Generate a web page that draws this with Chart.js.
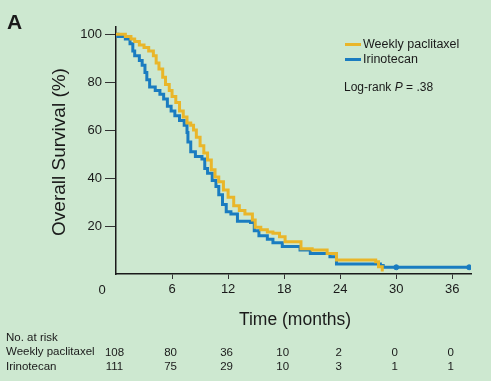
<!DOCTYPE html>
<html>
<head>
<meta charset="utf-8">
<script src="https://cdn.jsdelivr.net/npm/chart.js@4"></script>
<style>
  html, body { margin: 0; padding: 0; background: #cde8d0; }
  #wrap { position: relative; width: 491px; height: 381px; overflow: hidden; background: #cde8d0;
          font-family: 'Liberation Sans', Arial, sans-serif; color: #1a1a1a; }
  #wrap canvas { position: absolute; left: 0; top: 0; }
  .txt { position: absolute; white-space: nowrap; line-height: 1; }
  .swatch { position: absolute; width: 16px; height: 3px; }
</style>
</head>
<body>
<div id="wrap">
  <canvas id="kmChart" width="491" height="381"></canvas>

  <div class="txt" style="left:7px; top:11px; font-size:21px; font-weight:bold;">A</div>

  <div class="txt" id="yTitle" style="left:57.5px; top:151.5px; font-size:19px; transform: translate(-50%, -50%) rotate(-90deg);">Overall Survival (%)</div>
  <div class="txt" style="left:295px; top:320px; font-size:17.5px; transform: translate(-50%, -50%);">Time (months)</div>
  <div class="txt" style="left:102px; top:289px; font-size:13px; transform: translate(-50%, -50%);">0</div>

  <!-- legend -->
  <div class="swatch" style="left:345px; top:42.5px; background:#e9b62a;"></div>
  <div class="txt" style="left:363px; top:38px; font-size:12.5px;">Weekly paclitaxel</div>
  <div class="swatch" style="left:345px; top:57.5px; background:#1a7cc0;"></div>
  <div class="txt" style="left:363px; top:53px; font-size:12.5px;">Irinotecan</div>
  <div class="txt" style="left:344px; top:80.5px; font-size:12px;">Log-rank <i>P</i> = .38</div>

  <!-- at-risk row labels -->
  <div class="txt" style="left:6px; top:332px; font-size:11.5px;">No. at risk</div>
  <div class="txt" style="left:6px; top:346px; font-size:11.5px;">Weekly paclitaxel</div>
  <div class="txt" style="left:6px; top:361px; font-size:11.5px;">Irinotecan</div>
</div>

<script>
// Kaplan-Meier curves (months, % surviving)
const pacTimes = [0, 1.0, 1.6, 2.0, 2.5, 3.0, 3.5, 4.0, 4.3, 4.6, 5.0, 5.3, 5.7, 6.0, 6.4, 6.8, 7.2, 7.6, 8.0, 8.3, 8.6, 9.0, 9.4, 9.8, 10.2, 10.6, 11.0, 11.5, 12.0, 12.6, 13.2, 13.8, 14.6, 14.9, 15.5, 16.2, 16.8, 17.5, 18.1, 19.8, 21.0, 22.6, 23.6, 27.8, 28.1, 28.5];
const pacSurv  = [100, 99, 98, 97, 95.5, 94.5, 93, 91, 88, 85.5, 82, 79, 76.5, 74, 71.5, 68, 65.5, 63, 62, 60, 57, 53.5, 50.5, 47.5, 43.5, 40.5, 38.5, 35, 32, 28.5, 26.5, 25, 22.5, 19.5, 18.5, 17.5, 17, 15.5, 13.5, 10.5, 10, 8.5, 5.8, 5.1, 3, 1];

const iriTimes = [0, 0.2, 1.0, 1.5, 1.8, 2.0, 2.5, 2.8, 3.1, 3.3, 3.6, 4.2, 4.7, 5.1, 5.5, 5.9, 6.3, 6.8, 7.3, 7.6, 7.7, 8.0, 8.5, 9.2, 9.5, 9.8, 10.3, 10.7, 11.0, 11.4, 11.8, 12.3, 13.0, 14.4, 14.8, 15.3, 16.2, 16.8, 17.8, 19.7, 20.8, 22.9, 23.6, 28.3, 28.6, 37.8];
const iriSurv  = [100, 99, 98, 96, 93, 91, 89, 87, 84, 81, 78, 76.5, 75, 73, 70, 68, 66, 64, 62, 59, 55, 51, 49, 48, 44, 42, 39, 36.5, 33, 29, 26, 25, 22, 21.5, 18, 16, 14.5, 13, 11.5, 10, 8.5, 7.2, 4.2, 3.5, 2.8, 2.8];

// censored marks on the irinotecan tail
const iriCensorTimes = [30, 37.8];
const iriCensorSurv  = [2.8, 2.8];

// number at risk table
const riskTimes = [0, 6, 12, 18, 24, 30, 36];
const riskPac   = [108, 80, 36, 10, 2, 0, 0];
const riskIri   = [111, 75, 29, 10, 3, 1, 1];

const xTickStep = 6;
const yTickStep = 20;

const yellow = '#e9b62a';
const blue = '#1a7cc0';
const ink = '#1a1a1a';

function toPoints(xs, ys) {
    return xs.map((t, i) => ({ x: t, y: ys[i] }));
}

// draws the at-risk numbers under each x tick
const riskTable = {
    id: 'riskTable',
    afterDraw(chart) {
        const ctx = chart.ctx;
        const x = chart.scales.x;
        ctx.save();
        ctx.font = '11.5px "Liberation Sans", Arial, sans-serif';
        ctx.fillStyle = ink;
        ctx.textAlign = 'center';
        ctx.textBaseline = 'middle';
        riskTimes.forEach((t, i) => {
            const px = x.getPixelForValue(t) - 1.5;
            ctx.fillText(String(riskPac[i]), px, 352.5);
            ctx.fillText(String(riskIri[i]), px, 367);
        });
        ctx.restore();
    }
};

Chart.defaults.font.family = "'Liberation Sans', Arial, sans-serif";
Chart.defaults.color = ink;

new Chart(document.getElementById('kmChart'), {
    type: 'scatter',
    data: {
        datasets: [
            {
                label: 'Weekly paclitaxel',
                data: toPoints(pacTimes, pacSurv),
                showLine: true,
                stepped: true,
                borderColor: yellow,
                borderWidth: 3,
                pointRadius: 0,
                fill: false
            },
            {
                label: 'Irinotecan',
                data: toPoints(iriTimes, iriSurv),
                showLine: true,
                stepped: true,
                borderColor: blue,
                borderWidth: 3,
                pointRadius: 0,
                fill: false
            },
            {
                label: 'Irinotecan censored',
                data: toPoints(iriCensorTimes, iriCensorSurv),
                showLine: false,
                pointRadius: 2.5,
                pointBackgroundColor: blue,
                pointBorderColor: blue
            }
        ]
    },
    options: {
        responsive: false,
        devicePixelRatio: 1,
        animation: false,
        layout: { padding: { left: 0, top: 27, right: 20, bottom: 0 } },
        plugins: {
            legend: { display: false },
            tooltip: { enabled: false }
        },
        scales: {
            x: {
                type: 'linear',
                min: 0,
                max: 38,
                afterFit: function(scale) { scale.height = 107; },
                border: { display: true, color: ink, width: 1.5 },
                grid: {
                    drawOnChartArea: false,
                    drawTicks: true,
                    tickLength: 5,
                    tickColor: ctx => (ctx.tick && ctx.tick.value === 0) ? 'rgba(0,0,0,0)' : '#333',
                    lineWidth: 1
                },
                ticks: {
                    stepSize: xTickStep,
                    includeBounds: false,
                    padding: 3,
                    maxRotation: 0,
                    font: { size: 13 },
                    callback: v => v === 0 ? '' : v
                }
            },
            y: {
                type: 'linear',
                min: 0,
                max: 103,
                afterFit: function(scale) { scale.width = 116; },
                border: { display: true, color: ink, width: 1.5 },
                grid: {
                    drawOnChartArea: false,
                    drawTicks: true,
                    tickLength: 11,
                    tickColor: ctx => (ctx.tick && ctx.tick.value === 0) ? 'rgba(0,0,0,0)' : '#333',
                    lineWidth: 1
                },
                ticks: {
                    stepSize: yTickStep,
                    includeBounds: false,
                    padding: 3,
                    font: { size: 13 },
                    callback: v => v === 0 ? '' : v
                }
            }
        }
    },
    plugins: [riskTable]
});
</script>
</body>
</html>
